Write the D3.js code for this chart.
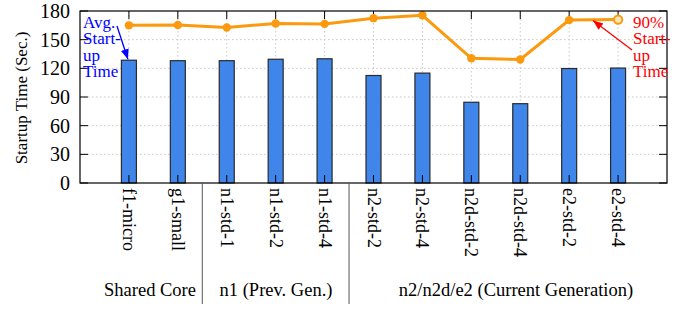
<!DOCTYPE html>
<html><head><meta charset="utf-8">
<script src="https://cdn.jsdelivr.net/npm/d3@7"></script>
<style>body{margin:0;background:#fff}svg{display:block}text{font-family:"Liberation Serif",serif}</style>
</head><body>
<script>
const categories = ["f1-micro","g1-small","n1-std-1","n1-std-2","n1-std-4","n2-std-2","n2-std-4","n2d-std-2","n2d-std-4","e2-std-2","e2-std-4"];
const avgStartup = [128.5,128,128,129.5,130,112.5,115,84.5,83,119.8,120.3];
const p90Startup = [165,165.3,162.8,167,166.5,172.5,175.5,130.5,129.3,170.5,171];
const yTicks = [0,30,60,90,120,150,180];
const groups = [{label:"Shared Core", from:0, to:1},{label:"n1 (Prev. Gen.)", from:2, to:4},{label:"n2/n2d/e2 (Current Generation)", from:5, to:10}];

const W=678,H=310, L=80,R=667,T=11,B=183;
const svg=d3.select("body").append("svg").attr("width",W).attr("height",H);
const x=d3.scaleLinear().domain([0,categories.length+1]).range([L,R]);
const y=d3.scaleLinear().domain([0,180]).range([B,T]);

svg.append("defs").selectAll("marker").data([["arB","#0000ff"],["arR","#ff0000"]]).join("marker")
 .attr("id",d=>d[0]).attr("viewBox","0 0 10 10").attr("refX",10).attr("refY",5)
 .attr("markerWidth",10).attr("markerHeight",10).attr("markerUnits","userSpaceOnUse").attr("orient","auto")
 .append("path").attr("d","M0,1 L10,5 L0,9 Z").attr("fill",d=>d[1]);

// grid
const g=svg.append("g");
g.selectAll(".hg").data(yTicks.filter(t=>t>0&&t<180)).join("line")
 .attr("x1",L).attr("x2",R).attr("y1",d=>y(d)).attr("y2",d=>y(d))
 .attr("stroke","#c8c8c8").attr("stroke-dasharray","1.5,2.5");
g.selectAll(".vg").data(categories).join("line")
 .attr("x1",(d,i)=>x(i+1)).attr("x2",(d,i)=>x(i+1)).attr("y1",T).attr("y2",B)
 .attr("stroke","#c8c8c8").attr("stroke-dasharray","1.5,2.5");

// bars
const bw=15;
svg.append("g").selectAll("rect").data(avgStartup).join("rect")
 .attr("x",(d,i)=>x(i+1)-bw/2).attr("width",bw).attr("y",d=>y(d)).attr("height",d=>B-y(d))
 .attr("fill","#3f85ea").attr("stroke","#2a2a2a").attr("stroke-width",1.2);

// ticks
const tk=svg.append("g").attr("stroke","#000").attr("stroke-width",1);
categories.forEach((c,i)=>{
 tk.append("line").attr("x1",x(i+1)).attr("x2",x(i+1)).attr("y1",B).attr("y2",B-8);
 tk.append("line").attr("x1",x(i+1)).attr("x2",x(i+1)).attr("y1",T).attr("y2",T+8);
});
yTicks.forEach(t=>{
 tk.append("line").attr("x1",L).attr("x2",L+8).attr("y1",y(t)).attr("y2",y(t));
 tk.append("line").attr("x1",R).attr("x2",R-8).attr("y1",y(t)).attr("y2",y(t));
});

// line
const line=d3.line().x((d,i)=>x(i+1)).y(d=>y(d));
svg.append("path").datum(p90Startup).attr("d",line).attr("fill","none").attr("stroke","#fb9a0e").attr("stroke-width",3);
svg.append("g").selectAll("circle").data(p90Startup).join("circle")
 .attr("cx",(d,i)=>x(i+1)).attr("cy",d=>y(d)).attr("r",4.2)
 .attr("fill",(d,i)=>i===p90Startup.length-1?"#fde3b8":"#fb9a0e").attr("stroke","#fb9a0e").attr("stroke-width",(d,i)=>i===p90Startup.length-1?2:0);

// frame
svg.append("rect").attr("x",L).attr("y",T).attr("width",R-L).attr("height",B-T).attr("fill","none").attr("stroke","#000").attr("stroke-width",1.2);

// y labels
svg.append("g").selectAll("text").data(yTicks).join("text")
 .attr("x",70).attr("y",d=>y(d)).attr("dy","0.35em").attr("text-anchor","end").attr("font-size",20).text(d=>d);
svg.append("text").attr("transform","translate(27,"+((T+B)/2+1)+") rotate(-90)").attr("text-anchor","middle")
 .attr("font-size",17).text("Startup Time (Sec.)");

// x labels
svg.append("g").selectAll("text").data(categories).join("text")
 .attr("transform",(d,i)=>"translate("+x(i+1)+",188) rotate(90)").attr("dy","0.33em")
 .attr("font-size",18).text(d=>d);

// group separators and labels
const seps=groups.slice(0,-1).map(gr=>(x(gr.to+1)+x(gr.to+2))/2);
svg.append("g").selectAll("line").data(seps).join("line").attr("x1",d=>d).attr("x2",d=>d).attr("y1",B).attr("y2",304)
 .attr("stroke","#555").attr("stroke-width",1);
const gx=[150,276,516];
svg.append("g").selectAll("text").data(groups).join("text")
 .attr("x",(d,i)=>gx[i]).attr("y",296).attr("text-anchor","middle").attr("font-size",18.5).text(d=>d.label);

// annotations
const ab=svg.append("text").attr("fill","#0000ff").attr("font-size",17);
["Avg.","Start-","up","Time"].forEach((s,i)=>ab.append("tspan").attr("x",83).attr("y",28+i*16.3).text(s));
svg.append("line").attr("x1",117).attr("y1",26).attr("x2",x(1)-1).attr("y2",y(avgStartup[0])-1)
 .attr("stroke","#0000ff").attr("stroke-width",1.3).attr("marker-end","url(#arB)");
const ar=svg.append("text").attr("fill","#ff0000").attr("font-size",17);
["90%","Start-","up","Time"].forEach((s,i)=>ar.append("tspan").attr("x",633).attr("y",28+i*16.3).text(s));
svg.append("line").attr("x1",632).attr("y1",50).attr("x2",593).attr("y2",y(p90Startup[10])+1)
 .attr("stroke","#ff0000").attr("stroke-width",1.3).attr("marker-end","url(#arR)");
</script>
</body></html>
